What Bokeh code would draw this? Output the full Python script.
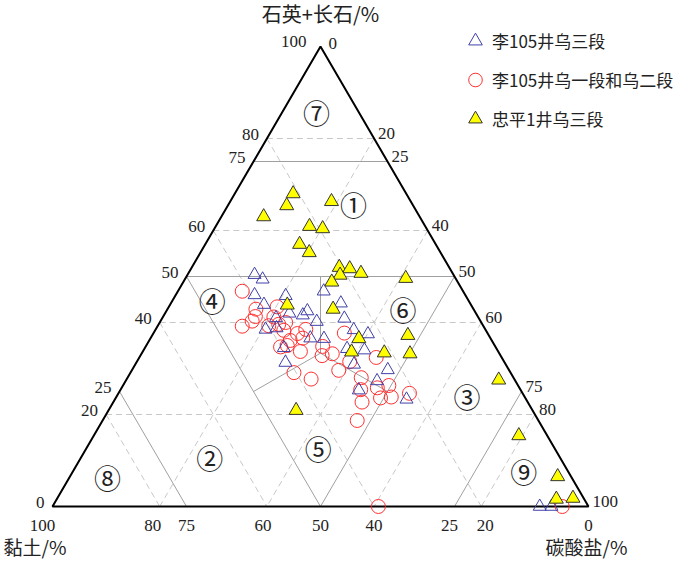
import numpy as np
from bokeh.plotting import figure
from bokeh.models import Range1d, Legend, LegendItem
from bokeh.core.properties import value
from bokeh.embed import file_html
from bokeh.resources import INLINE

# ---------------- data (percent: quartz+feldspar, clay, carbonate) ----------------
li105_w3_qf = [50.4, 49.4, 46.0, 43.9, 45.8, 46.8, 44.2, 42.0, 41.6, 42.5, 41.0, 40.2, 38.5, 38.8, 36.6,
               36.5, 34.5, 31.3, 40.9, 38.4, 37.5, 34.3, 34.0, 30.9, 29.7, 27.3, 25.3, 23.3, 0.0, 0.0]
li105_w3_clay = [37.1, 36.1, 39.3, 38.6, 33.6, 26.0, 24.1, 34.8, 32.5, 31.2, 37.8, 30.6, 41.0, 38.8, 33.6,
                 31.1, 39.6, 40.9, 25.1, 24.6, 22.4, 27.9, 24.8, 28.3, 22.6, 25.8, 30.2, 22.3, 9.1, 6.9]
li105_w3_carb = [12.5, 14.5, 14.7, 17.5, 20.6, 27.2, 31.7, 23.2, 25.9, 26.3, 21.2, 29.2, 20.5, 22.4, 29.8,
                 32.4, 25.9, 27.8, 34.0, 37.0, 40.1, 37.8, 41.2, 40.8, 47.7, 46.9, 44.5, 54.4, 90.9, 93.1]

li105_w12_qf = [46.8, 42.9, 41.3, 40.3, 39.2, 43.4, 41.2, 39.6, 39.3, 38.3, 37.6, 38.5, 36.6, 34.7, 35.0,
                33.7, 36.1, 34.8, 32.8, 33.2, 29.1, 27.7, 29.6, 37.7, 31.5, 32.4, 28.0, 25.8, 26.3, 25.4,
                23.6, 23.8, 24.6, 22.7, 18.7, 0.0, 0.0, 40.0]
li105_w12_clay = [41.2, 40.6, 41.5, 42.6, 45.0, 36.4, 38.1, 38.0, 40.0, 37.7, 35.5, 33.5, 35.0, 40.1, 38.7,
                  36.9, 37.6, 32.2, 33.3, 31.2, 40.4, 37.9, 31.8, 26.7, 28.8, 23.4, 28.4, 26.5, 24.1, 29.8,
                  27.0, 24.9, 21.1, 30.9, 33.8, 39.2, 4.9, 36.5]
li105_w12_carb = [12.0, 16.5, 17.2, 17.1, 15.8, 20.2, 20.7, 22.4, 20.7, 24.0, 26.9, 28.0, 28.4, 25.2, 26.3,
                  29.4, 26.3, 33.0, 33.9, 35.6, 30.5, 34.4, 38.6, 35.6, 39.7, 44.2, 43.6, 47.7, 49.6, 44.8,
                  49.4, 51.3, 54.3, 46.4, 47.5, 60.8, 95.1, 23.5]

zp1_w3_qf = [68.0, 65.4, 66.3, 63.0, 60.9, 60.4, 57.0, 55.2, 52.0, 51.7, 50.7, 50.3, 48.8, 49.6, 43.8,
             42.9, 36.5, 33.6, 33.4, 37.2, 33.2, 20.9, 27.5, 15.4, 6.5, 1.6, 1.8]
zp1_w3_clay = [21.1, 23.6, 14.8, 29.1, 21.6, 19.4, 25.4, 24.5, 20.5, 18.7, 17.1, 21.2, 23.5, 9.3, 34.3,
               26.2, 24.6, 27.4, 21.4, 15.1, 16.7, 44.1, 3.0, 5.3, 2.5, 5.2, 2.0]
zp1_w3_carb = [10.9, 11.0, 18.9, 7.9, 17.5, 20.2, 17.6, 20.3, 27.5, 29.6, 32.2, 28.5, 27.7, 41.1, 21.9,
               30.9, 38.9, 39.0, 45.2, 47.7, 50.1, 35.0, 69.5, 79.3, 91.0, 93.2, 96.2]

series_labels = ["李105井乌三段", "李105井乌一段和乌二段", "忠平1井乌三段"]
tick_values = [0, 20, 25, 40, 50, 60, 75, 80, 100]
grid_values = [20, 40, 60, 80]
class_values = [50, 75]
region_labels = ["⑦", "①", "④", "⑥", "③", "②", "⑤", "⑧", "⑨"]
region_qf = [85.7, 65.7, 44.8, 42.8, 23.9, 10.7, 12.6, 6.3, 7.6]
region_clay = [7.9, 11.0, 47.8, 13.2, 10.7, 65.3, 44.1, 86.6, 8.3]
region_carb = [6.4, 23.3, 7.4, 44.0, 65.4, 24.0, 43.3, 7.1, 84.1]
axis_titles = ["石英+长石/%", "黏土/%", "碳酸盐/%"]

# ---------------- geometry ----------------
W, H = 700, 562
PX0, PY0 = 52.0, 506.0          # left vertex on the page
SX = 5.36                        # px per X unit
SY = 460.0 / (50 * np.sqrt(3))   # px per Y unit
R3 = np.sqrt(3) / 2
CJK = "Noto Sans CJK SC"


def tern(q, cl, c):
    q = np.asarray(q, float); cl = np.asarray(cl, float); c = np.asarray(c, float)
    s = q + cl + c
    q = q / s * 100; c = c / s * 100
    return c + q / 2, q * R3


p = figure(width=W, height=H,
           x_range=Range1d(-PX0 / SX, (W - PX0) / SX),
           y_range=Range1d((PY0 - H) / SY, PY0 / SY),
           output_backend="svg", toolbar_location=None, min_border=0,
           x_axis_location=None, y_axis_location=None)
p.grid.visible = False
p.outline_line_color = None
p.background_fill_color = "white"

# dashed grid
gxs, gys = [], []
for v in grid_values:
    for a, b in [((v, 100 - v, 0), (v, 0, 100 - v)),
                 ((100 - v, v, 0), (0, v, 100 - v)),
                 ((100 - v, 0, v), (0, 100 - v, v))]:
        x, y = tern([a[0], b[0]], [a[1], b[1]], [a[2], b[2]])
        gxs.append(list(x)); gys.append(list(y))
p.multi_line(gxs, gys, line_color="#c8c8c8", line_width=1, line_dash="6 4")

# classification lines
cxs, cys = [], []
for v in class_values:
    segs = [((v, 100 - v, 0), (v, 0, 100 - v)),
            ((100 - v, v, 0), (0, v, 100 - v)),
            ((100 - v, 0, v), (0, 100 - v, v))]
    for a, b in segs:
        x, y = tern([a[0], b[0]], [a[1], b[1]], [a[2], b[2]])
        cxs.append(list(x)); cys.append(list(y))
third = 100 / 3
for a in [(25, 50, 25), (25, 25, 50), (50, 25, 25)]:
    x, y = tern([a[0], third], [a[1], third], [a[2], third])
    cxs.append(list(x)); cys.append(list(y))
p.multi_line(cxs, cys, line_color="#a0a0a0", line_width=1)

# outer triangle
tx, ty = tern([100, 0, 0, 100], [0, 100, 0, 0], [0, 0, 100, 0])
p.line(list(tx), list(ty), line_color="black", line_width=2)

# data
x1, y1 = tern(li105_w12_qf, li105_w12_clay, li105_w12_carb)
x2, y2 = tern(li105_w3_qf, li105_w3_clay, li105_w3_carb)
x3, y3 = tern(zp1_w3_qf, zp1_w3_clay, zp1_w3_carb)
r_red = p.scatter(x1, y1, marker="circle", size=14, fill_color=None, line_color="#ff3030", line_width=1)
r_blue = p.scatter(x2, y2, marker="triangle", size=13, fill_color=None, line_color="#4040a8", line_width=1)
r_yel = p.scatter(x3, y3, marker="triangle", size=14, fill_color="#ffff00", line_color="#333333", line_width=1)

legend = Legend(items=[LegendItem(label=series_labels[0], renderers=[r_blue]),
                       LegendItem(label=series_labels[1], renderers=[r_red]),
                       LegendItem(label=series_labels[2], renderers=[r_yel])],
                location=(458, 424), glyph_width=34, glyph_height=39, spacing=0, padding=0,
                margin=0, label_standoff=0, border_line_color=None, background_fill_alpha=0,
                label_text_font=CJK, label_text_font_size="17px",
                label_text_color="#222222")
p.add_layout(legend)

# tick labels
num_font = value("Liberation Serif")
lx, ly = tern(tick_values, [100 - v for v in tick_values], [0] * len(tick_values))
p.text(lx, ly, text=[str(v) for v in tick_values], text_align="right", text_baseline="middle",
       x_offset=[-14 if v == 100 else -8 for v in tick_values],
       y_offset=[-5 if v == 100 else -4 for v in tick_values],
       text_font=num_font, text_font_size="17px", text_color="#222222")
rx, ry = tern([100 - v for v in tick_values], [0] * len(tick_values), tick_values)
p.text(rx, ry, text=[str(v) for v in tick_values], text_align="left", text_baseline="middle",
       x_offset=[8 if v == 0 else 4 for v in tick_values],
       y_offset=[-3 if v == 0 else -5 for v in tick_values],
       text_font=num_font, text_font_size="17px", text_color="#222222")
nudge = {100: -10, 80: -7, 60: -4, 25: -5, 20: 4}
bx, by = tern([0] * len(tick_values), tick_values, [100 - v for v in tick_values])
p.text(bx, by, text=[str(v) for v in tick_values], text_align="center", text_baseline="middle",
       x_offset=[nudge.get(v, 0) for v in tick_values], y_offset=19,
       text_font=num_font, text_font_size="17px", text_color="#222222")

# region labels
rgx, rgy = tern(region_qf, region_clay, region_carb)
p.text(rgx, rgy, text=region_labels, text_align="center", text_baseline="middle",
       text_font=value(CJK), text_font_size="27px", text_color="#222222")

# axis titles
ax_x, ax_y = tern([100, 0, 0], [0, 100, 0], [0, 0, 100])
p.text([ax_x[0]], [ax_y[0]], text=[axis_titles[0]], text_align="center", text_baseline="middle",
       y_offset=-33, text_font=value(CJK), text_font_size="20px", text_color="#222222")
p.text([ax_x[1]], [ax_y[1]], text=[axis_titles[1]], text_align="left", text_baseline="middle",
       x_offset=-49, y_offset=40, text_font=value(CJK), text_font_size="19px", text_color="#222222")
p.text([ax_x[2]], [ax_y[2]], text=[axis_titles[2]], text_align="center", text_baseline="middle",
       x_offset=-2, y_offset=40, text_font=value(CJK), text_font_size="19px", text_color="#222222")

open("out.html", "w").write(file_html(p, INLINE))
